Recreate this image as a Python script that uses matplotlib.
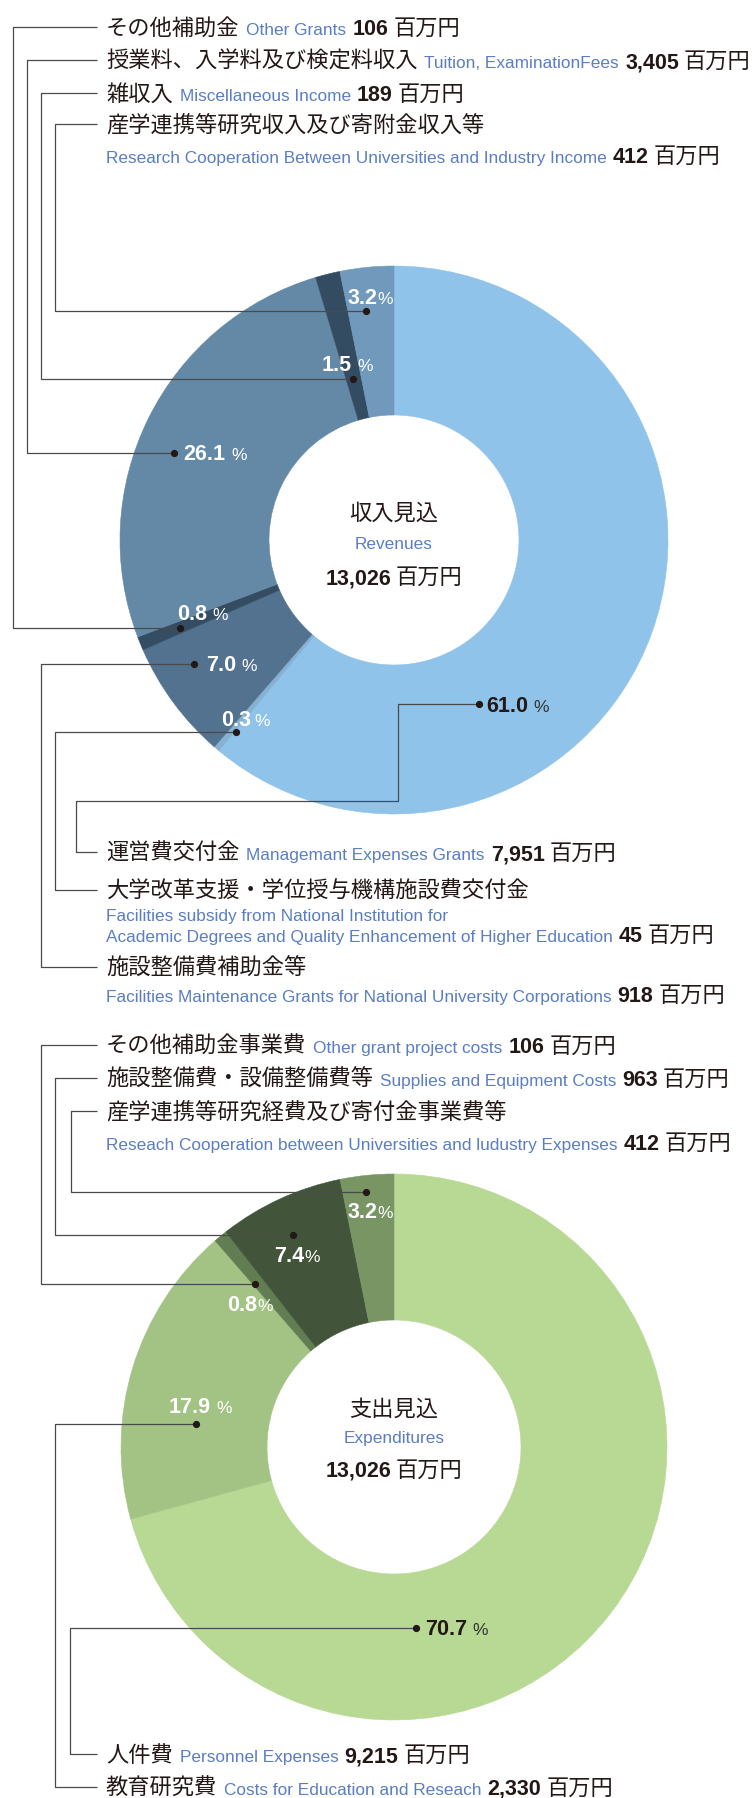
import matplotlib
matplotlib.use("Agg")
import matplotlib.pyplot as plt
import numpy as np

W, H = 754, 1798

# ---- data (clockwise from 12 o'clock) ----
rev_jp = ["運営費交付金", "大学改革支援・学位授与機構施設費交付金", "施設整備費補助金等",
          "その他補助金", "授業料、入学料及び検定料収入", "雑収入",
          "産学連携等研究収入及び寄附金収入等"]
rev_en = ["Managemant Expenses Grants",
          "Facilities subsidy from National Institution for\nAcademic Degrees and Quality Enhancement of Higher Education",
          "Facilities Maintenance Grants for National University Corporations",
          "Other Grants", "Tuition, ExaminationFees", "Miscellaneous Income",
          "Research Cooperation Between Universities and Industry Income"]
rev_amount = [7951, 45, 918, 106, 3405, 189, 412]
rev_pct = ["61.0", "0.3", "7.0", "0.8", "26.1", "1.5", "3.2"]
rev_total = 13026

exp_jp = ["人件費", "教育研究費", "その他補助金事業費", "施設整備費・設備整備費等",
          "産学連携等研究経費及び寄付金事業費等"]
exp_en = ["Personnel Expenses", "Costs for Education and Reseach",
          "Other grant project costs", "Supplies and Equipment Costs",
          "Reseach Cooperation between Universities and ludustry Expenses"]
exp_amount = [9215, 2330, 106, 963, 412]
exp_pct = ["70.7", "17.9", "0.8", "7.4", "3.2"]
exp_total = 13026

# ---- styles / layout ----
rev_colors = ["#8FC3E9", "#86B1D2", "#52728F", "#354D63", "#6489A6", "#344C61", "#7099BB"]
exp_colors = ["#B8D993", "#A3C385", "#627D52", "#42553A", "#789563"]
BLACK = "#231815"
BLUE = "#5A7DC3"
LINE = "#4a4a4a"
JP = ["Noto Sans CJK JP", "DejaVu Sans"]
EN = "Liberation Sans"

rev_c, rev_r, rev_in = (394, 540), 274, 125
exp_c, exp_r, exp_in = (394, 1447), 273, 127

# dot: (fraction along wedge, radius); label offset from dot, ha, gap before %
rev_dot = [(0.694, 185), (-0.2, 249), (0.68, 235), (0.44, 231), (0.449, 237), (0.44, 166), (0.39, 231)]
rev_lab = [((7, 0), "left", 5), ((-15, -14), "left", 4), ((12, 0), "left", 5),
           ((-3, -15), "left", 5), ((10, 0), "left", 6), ((-6, -16), "center", 6),
           ((4, -14), "center", 0)]
# leader: vertical x, row y, english baselines (empty = same line), extra corner
rev_leader = [(76, 852, [], (398, 801)), (55, 890, [921, 942], None), (41, 967, [1002], None),
              (13, 27, [], None), (27, 60, [], None), (41, 93, [], None), (55, 124, [163], None)]

exp_dot = [(0.68, 182), (0.34, 199), (0.16, 214), (0.47, 235), (0.45, 257)]
exp_lab = [((10, 0), "left", 5), ((-28, -19), "left", 6), ((-5, 19), "center", 0),
           ((4, 20), "center", 0), ((4, 19), "center", 0)]
exp_leader = [(70, 1754, [], None), (55, 1787, [], None), (41, 1045, [], None),
              (55, 1078, [], None), (71, 1111, [1150], None)]

fig = plt.figure(figsize=(W / 100, H / 100), dpi=100)
ax = fig.add_axes([0, 0, 1, 1])
rend = fig.canvas.get_renderer()


def runs(x, y, parts, ha="left"):
    arts = []
    for s, st, gap in parts:
        t = ax.text(0, y, s, va="baseline", ha="left", zorder=6, **st)
        arts.append((t, gap))
    widths = [t.get_window_extent(renderer=rend).width for t, _ in arts]
    total = sum(widths) + sum(g for _, g in arts[1:])
    if ha == "center":
        x = x - total / 2
    cx = x
    for i, ((t, gap), w) in enumerate(zip(arts, widths)):
        if i > 0:
            cx += gap
        t.set_x(cx)
        cx += w
    return cx


jp_st = dict(family=JP, fontsize=16, color=BLACK)
en_st = dict(family=EN, fontsize=12.4, color=BLUE)
num_st = dict(family=EN, fontsize=15.5, color=BLACK, weight="bold")


def donut(values, colors, center, r_out, r_in, jp, en, pct, dots, labs, leaders):
    wedges, _ = ax.pie(values, colors=colors, startangle=-90, counterclock=True,
                       radius=r_out, center=center,
                       wedgeprops=dict(width=r_out - r_in, linewidth=0.4))
    for w, c in zip(wedges, colors):
        w.set_edgecolor(c)
    for i, w in enumerate(wedges):
        frac, rr = dots[i]
        a = np.deg2rad(w.theta1 + frac * (w.theta2 - w.theta1))
        dx, dy = center[0] + rr * np.cos(a), center[1] + rr * np.sin(a)
        vx, ry, en_lines, corner = leaders[i]
        if corner is None:
            xs = [dx, vx, vx, 97]
            ys = [dy, dy, ry, ry]
        else:
            xs = [dx, corner[0], corner[0], vx, vx, 97]
            ys = [dy, dy, corner[1], corner[1], ry, ry]
        ax.plot(xs, ys, color=LINE, lw=0.9, zorder=4, solid_capstyle="butt")
        ax.plot(dx, dy, "o", ms=4.2, color=BLACK, zorder=5)
        # percentage label
        (ox, oy), ha, gap = labs[i]
        inside = i != 0
        ncol = "white" if inside else BLACK
        pcol = "white" if inside else "#333333"
        runs(dx + ox, dy + oy + 7.5,
             [(pct[i], dict(family=EN, fontsize=15.5, weight="bold", color=ncol), 0),
              ("%", dict(family=EN, fontsize=12.5, color=pcol), gap)], ha=ha)
        # category label
        amount = f"{values[i]:,}"
        base = ry + 8
        if not en_lines:
            runs(106, base, [(jp[i], jp_st, 0), (en[i], en_st, 7),
                             (amount, num_st, 6), ("百万円", jp_st, 5)])
        else:
            runs(106, base, [(jp[i], jp_st, 0)])
            lines = en[i].split("\n")
            for k, (ln, yb) in enumerate(zip(lines, en_lines)):
                if k == len(lines) - 1:
                    runs(106, yb, [(ln, en_st, 0), (amount, num_st, 6), ("百万円", jp_st, 5)])
                else:
                    runs(106, yb, [(ln, en_st, 0)])


donut(rev_amount, rev_colors, rev_c, rev_r, rev_in, rev_jp, rev_en, rev_pct,
      rev_dot, rev_lab, rev_leader)
donut(exp_amount, exp_colors, exp_c, exp_r, exp_in, exp_jp, exp_en, exp_pct,
      exp_dot, exp_lab, exp_leader)

# centre titles
for (cx, cy), jt, et, tot in [((394, 540), "収入見込", "Revenues", rev_total),
                              ((394, 1447), "支出見込", "Expenditures", exp_total)]:
    off = (-28, 3, 36) if jt == "収入見込" else (-39, -10, 22)
    runs(cx, cy + off[0] + 8, [(jt, jp_st, 0)], ha="center")
    runs(cx, cy + off[1] + 6, [(et, en_st, 0)], ha="center")
    runs(cx, cy + off[2] + 8, [(f"{tot:,}", num_st, 0), ("百万円", jp_st, 5)], ha="center")

ax.set_xlim(0, W)
ax.set_ylim(H, 0)
ax.set_aspect("auto")
ax.axis("off")

fig.savefig("out.png", dpi=100)
